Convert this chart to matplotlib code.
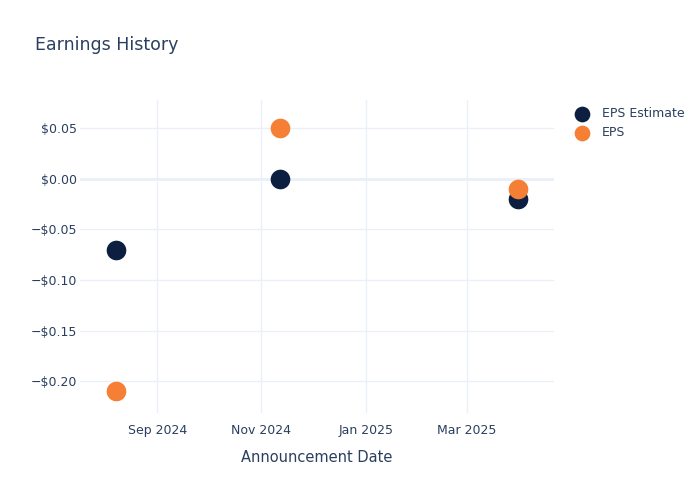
import matplotlib
matplotlib.use("Agg")
import matplotlib.pyplot as plt
import matplotlib.dates as mdates
from matplotlib.ticker import FuncFormatter
from datetime import datetime

# data
dates = ["2024-08-08", "2024-11-12", "2025-03-31"]
eps_estimate = [-0.07, 0.00, -0.02]
eps_actual = [-0.21, 0.05, -0.01]

x = [datetime.strptime(d, "%Y-%m-%d") for d in dates]

text_color = "#2a3f5f"
grid_color = "#ebf0f8"

fig = plt.figure(figsize=(7, 5), dpi=100)
ax = fig.add_axes([0.114, 0.174, 0.677, 0.626])

ax.scatter(x, eps_estimate, s=200, color="#0c1f40", label="EPS Estimate", zorder=3, linewidths=0)
ax.scatter(x, eps_actual, s=200, color="#f47f35", label="EPS", zorder=4, linewidths=0)

ax.set_xlim(datetime(2024, 7, 17, 16), datetime(2025, 4, 21))
ax.set_ylim(-0.2313, 0.0779)

ax.xaxis.set_major_locator(mdates.MonthLocator(bymonth=[1, 3, 5, 7, 9, 11]))
ax.xaxis.set_major_formatter(mdates.DateFormatter("%b %Y"))
ax.set_yticks([-0.20, -0.15, -0.10, -0.05, 0.0, 0.05])


def money(v, pos):
    s = f"${abs(v):.2f}"
    return "\u2212" + s if v < -1e-9 else s


ax.yaxis.set_major_formatter(FuncFormatter(money))

ax.grid(True, color=grid_color, linewidth=1, zorder=0)
ax.axhline(0, color=grid_color, linewidth=2, zorder=1)
for sp in ax.spines.values():
    sp.set_visible(False)
ax.tick_params(axis="x", length=0, colors=text_color, labelsize=9, pad=8)
ax.tick_params(axis="y", length=0, colors=text_color, labelsize=9, pad=2)

ax.set_xlabel("Announcement Date", color=text_color, fontsize=10.5, labelpad=9)
fig.text(0.05, 0.9, "Earnings History", color=text_color, fontsize=12.5)

leg = ax.legend(loc="upper left", bbox_to_anchor=(1.009, 1.012), frameon=False,
                fontsize=9, labelcolor=text_color, handletextpad=0.6,
                labelspacing=0.45, markerscale=0.8)

fig.savefig("out.png", dpi=100)
